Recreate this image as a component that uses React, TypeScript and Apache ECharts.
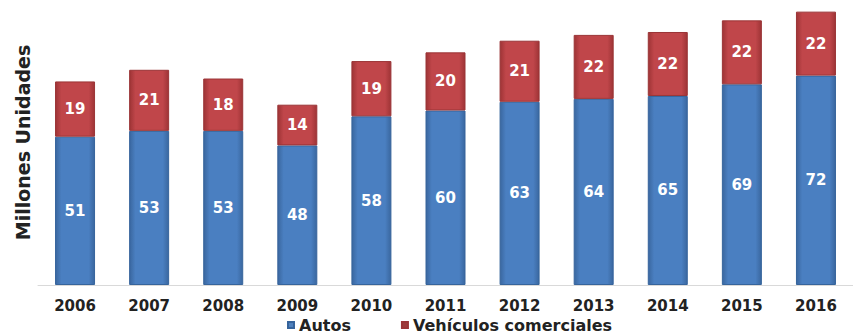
import React, { useEffect, useRef } from "react";
import * as echarts from "echarts";

const years = ["2006", "2007", "2008", "2009", "2010", "2011", "2012", "2013", "2014", "2015", "2016"];
const autos = [51, 53, 53, 48, 58, 60, 63, 64, 65, 69, 72];
const comerciales = [19, 21, 18, 14, 19, 20, 21, 22, 22, 22, 22];
const seriesNames = ["Autos", "Vehículos comerciales"];
const yName = "Millones Unidades";

const FONT = "'DejaVu Sans', Arial, sans-serif";

const hGrad = (edge: string, mid: string) =>
  new echarts.graphic.LinearGradient(0, 0, 1, 0, [
    { offset: 0, color: edge },
    { offset: 0.15, color: mid },
    { offset: 0.85, color: mid },
    { offset: 1, color: edge },
  ]);

export default function App() {
  const ref = useRef<HTMLDivElement>(null);
  useEffect(() => {
    document.body.style.margin = "0";
    if (!ref.current) return;
    const chart = echarts.init(ref.current, undefined, { renderer: "svg" });
    const label = {
      show: true,
      position: "inside" as const,
      color: "#ffffff",
      fontWeight: "bold" as const,
      fontSize: 15,
      fontFamily: FONT,
    };
    chart.setOption({
      animation: false,
      backgroundColor: "#ffffff",
      grid: { left: 38, right: -15, top: 0, bottom: 50, containLabel: false },
      legend: {
        left: 287,
        top: 317,
        padding: 0,
        itemWidth: 6,
        itemHeight: 6,
        itemGap: 50,
        icon: "rect",
        textStyle: { fontFamily: FONT, fontWeight: "bold", fontSize: 16, lineHeight: 16, color: "#222" },
        data: [
          { name: seriesNames[0], itemStyle: { color: "#4f81bd" } },
          { name: seriesNames[1], itemStyle: { color: "#9b3b3b" } },
        ],
      },
      xAxis: {
        type: "category",
        data: years,
        axisLine: { show: true, lineStyle: { color: "#d9d9d9", width: 1 } },
        axisTick: { show: false },
        axisLabel: { fontFamily: FONT, fontWeight: "bold", fontSize: 15, lineHeight: 15, color: "#222", margin: 13 },
      },
      yAxis: {
        type: "value",
        min: 0,
        max: 98,
        name: yName,
        nameLocation: "middle",
        nameRotate: 90,
        nameGap: 6,
        nameTextStyle: { fontFamily: FONT, fontWeight: "bold", fontSize: 19, color: "#222" },
        axisLine: { show: false },
        axisTick: { show: false },
        axisLabel: { show: false },
        splitLine: { show: false },
      },
      series: [
        {
          name: seriesNames[0],
          type: "bar",
          stack: "total",
          data: autos,
          barWidth: 40,
          itemStyle: { color: hGrad("#3a679f", "#4a7fc1"), borderColor: "#36649c", borderWidth: 1 },
          label,
        },
        {
          name: seriesNames[1],
          type: "bar",
          stack: "total",
          data: comerciales,
          barWidth: 40,
          itemStyle: { color: hGrad("#9e3436", "#c0464a"), borderColor: "#9a3436", borderWidth: 1 },
          label,
        },
      ],
    });
    return () => chart.dispose();
  }, []);
  return <div ref={ref} style={{ width: 853, height: 335 }} />;
}
